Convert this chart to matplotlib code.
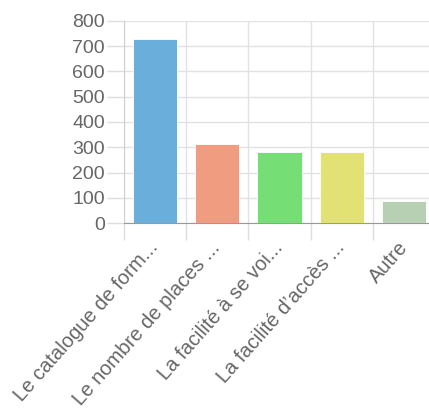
import matplotlib
matplotlib.use("Agg")
import matplotlib.pyplot as plt

categories = ["Le catalogue de form...", "Le nombre de places ...", "La facilité à se voi...",
              "La facilité d\u2019accès ...", "Autre"]
values = [729, 313, 280, 280, 88]
colors = ["#6aaedc", "#f09c80", "#75de75", "#e2e274", "#b7d0b4"]

plt.rcParams["font.family"] = ["Liberation Sans", "DejaVu Sans"]

W, H = 429, 416
fig = plt.figure(figsize=(W / 100, H / 100), dpi=100)
x0, x1 = 123.5, 435.5
y0, y1 = 223.3, 20.7
ax = fig.add_axes([x0 / W, 1 - y0 / H, (x1 - x0) / W, (y0 - y1) / H])

pos = range(len(categories))
ax.bar(pos, values, width=0.71, color=colors, edgecolor="white", linewidth=0.6, zorder=3)

ax.set_xlim(-0.5, len(categories) - 0.5)
ax.set_ylim(0, 800)
ax.set_yticks(range(0, 801, 100))
ax.set_xticks([p - 0.5 for p in pos], minor=True)
ax.set_xticks(list(pos))
ax.set_xticklabels(categories, rotation=48.5, ha="right", va="center",
                   rotation_mode="anchor", fontsize=14.5, color="#666666")
ax.tick_params(axis="x", which="major", length=0, pad=15)
ax.tick_params(axis="x", which="minor", length=12.5, color="#dddddd", width=1)
ax.tick_params(axis="y", length=12.5, color="#dddddd", width=1, pad=1,
               labelsize=14, labelcolor="#666666")

ax.grid(axis="y", color="#e2e2e2", linewidth=1, zorder=0)
ax.grid(axis="x", which="minor", color="#e2e2e2", linewidth=1, zorder=0)

for s in ["top", "right"]:
    ax.spines[s].set_visible(False)
ax.spines["left"].set_color("#d0d0d0")
ax.spines["bottom"].set_color("#999999")
ax.set_axisbelow(True)

fig.savefig("out.png", dpi=100)
